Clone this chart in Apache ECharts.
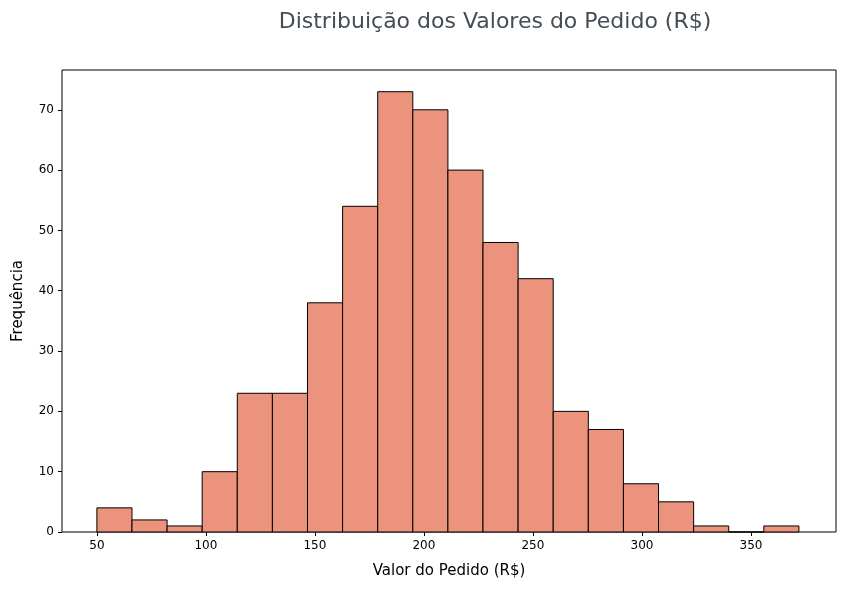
<!DOCTYPE html>
<html>
  <head>
    <meta charset="utf-8" />
    <title>Histograma</title>
    <script src="https://cdn.jsdelivr.net/npm/echarts@6/dist/echarts.min.js"></script>
  </head>
  <body style="margin:0">
    <div id="main" style="width: 846px;height:589px;"></div>
    <script type="text/javascript">
      // bordas dos intervalos e contagens
      var binStarts = [50, 66.1, 82.2, 98.3, 114.4, 130.5, 146.6, 162.7, 178.8, 194.9,
                       211.0, 227.1, 243.2, 259.3, 275.4, 291.5, 307.6, 323.7, 339.8, 355.9];
      var binWidth = 16.1;
      var counts = [4, 2, 1, 10, 23, 23, 38, 54, 73, 70, 60, 48, 42, 20, 17, 8, 5, 1, 0, 1];
      var xTicks = [50, 100, 150, 200, 250, 300, 350];
      var yTicks = [0, 10, 20, 30, 40, 50, 60, 70];

      var myChart = echarts.init(document.getElementById('main'));
      var data = binStarts.map(function (s, i) { return [s, s + binWidth, counts[i]]; });

      var option = {
        animation: false,
        backgroundColor: '#fff',
        title: {
          text: 'Distribuição dos Valores do Pedido (R$)',
          left: 490, top: 6, textAlign: 'center',
          textStyle: { fontFamily: 'DejaVu Sans', fontSize: 22, fontWeight: 'normal', color: '#454c55' }
        },
        grid: { left: 62, right: 10, top: 70, bottom: 57, show: true, borderColor: '#000', borderWidth: 1 },
        xAxis: {
          type: 'value', min: 34, max: 389,
          name: 'Valor do Pedido (R$)', nameLocation: 'middle', nameGap: 32,
          nameTextStyle: { fontFamily: 'DejaVu Sans', fontSize: 15, color: '#000' },
          axisLine: { show: false },
          axisTick: { show: true, customValues: xTicks, length: 4, lineStyle: { color: '#000' } },
          axisLabel: { customValues: xTicks, color: '#000', fontFamily: 'DejaVu Sans', fontSize: 12 },
          splitLine: { show: false }
        },
        yAxis: {
          type: 'value', min: 0, max: 76.6,
          name: 'Frequência', nameLocation: 'middle', nameGap: 36,
          nameTextStyle: { fontFamily: 'DejaVu Sans', fontSize: 15, color: '#000' },
          axisLine: { show: false },
          axisTick: { show: true, customValues: yTicks, length: 4, lineStyle: { color: '#000' } },
          axisLabel: { customValues: yTicks, color: '#000', fontFamily: 'DejaVu Sans', fontSize: 12 },
          splitLine: { show: false }
        },
        series: [{
          type: 'custom',
          data: data,
          encode: { x: [0, 1], y: 2 },
          renderItem: function (params, api) {
            var p0 = api.coord([api.value(0), api.value(2)]);
            var p1 = api.coord([api.value(1), 0]);
            return {
              type: 'rect',
              shape: { x: p0[0], y: p0[1], width: p1[0] - p0[0], height: p1[1] - p0[1] },
              style: { fill: '#ec937d', stroke: '#000', lineWidth: 1 }
            };
          }
        }]
      };
      myChart.setOption(option);
    </script>
  </body>
</html>
